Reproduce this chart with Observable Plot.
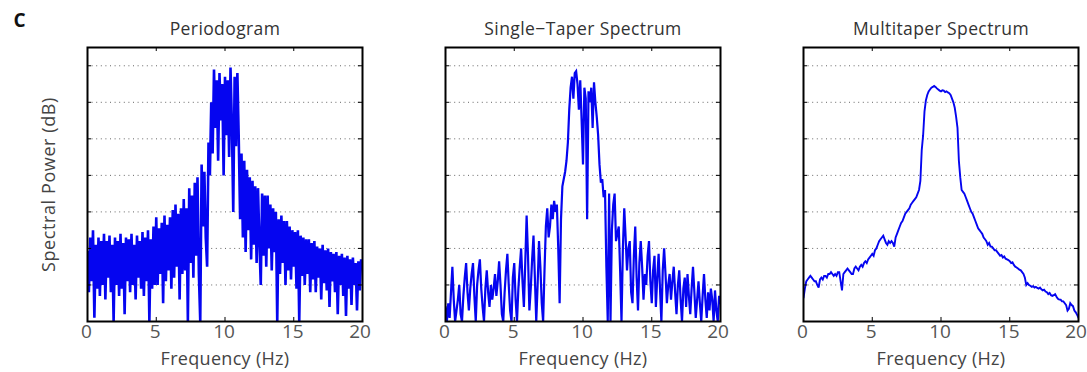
<!DOCTYPE html>
<html>
<head>
<meta charset="utf-8">
<script src="https://cdn.jsdelivr.net/npm/d3@7"></script>
<script src="https://cdn.jsdelivr.net/npm/@observablehq/plot@0.6"></script>
<style>
  html, body { margin: 0; padding: 0; background: #fff; }
  #chart { width: 1087px; height: 372px; overflow: hidden; }
</style>
</head>
<body>
<div id="chart"></div>
<script>
// Panel titles
const panels = ["Periodogram", "Single\u2212Taper Spectrum", "Multitaper Spectrum"];
const xTicks = [0, 5, 10, 15, 20];
const gridLevels = [1, 2, 3, 4, 5, 6, 7];
const freqStep = 0.1; // Hz, sampling of each spectrum (index * step)

// Spectral power (arbitrary dB units), 0..20 Hz every 0.1 Hz
const periodogram = [
  1.9, 0.8, 2.3, 1.1, 2.5, 0.1, 2.1, 0.9, 2.3, 0.7,
  2.2, 1.0, 2.4, 0.6, 2.2, 1.2, 2.35, 0.8, 2.1, 0.0,
  2.3, 1.0, 2.2, 0.7, 2.4, 0.9, 2.15, 0.2, 2.3, 1.1,
  2.25, 0.8, 2.4, 1.0, 2.1, 0.6, 2.35, 1.2, 2.2, 0.9,
  2.45, 0.7, 2.3, 1.1, 2.5, 0.0, 2.25, 0.9, 2.6, 1.0,
  2.85, 1.0, 2.55, 1.3, 2.7, 0.5, 2.9, 1.1, 2.65, 1.4,
  2.85, 0.9, 3.05, 1.2, 3.2, 1.5, 2.95, 0.6, 3.1, 1.3,
  3.35, 1.4, 3.1, 0.0, 3.65, 1.6, 3.45, 1.2, 3.8, 1.8,
  3.95, 1.3, 0.0, 4.3, 2.6, 4.1, 2.3, 1.5, 4.9, 4.0,
  6.0, 4.6, 6.9, 5.3, 6.6, 4.4, 6.8, 5.5, 6.5, 4.0,
  6.7, 5.1, 6.6, 4.5, 6.95, 5.4, 3.0, 6.7, 4.8, 6.8,
  5.0, 2.8, 4.6, 2.3, 4.4, 1.9, 4.15, 2.5, 3.95, 1.7,
  3.85, 2.1, 3.7, 1.6, 3.65, 2.2, 1.0, 3.5, 1.8, 3.45,
  1.5, 3.45, 2.0, 3.2, 1.4, 3.1, 1.9, 3.0, 0.0, 2.8,
  1.3, 2.9, 1.6, 2.75, 1.0, 2.75, 1.4, 2.6, 1.15, 2.5,
  1.5, 2.45, 0.9, 2.5, 0.0, 2.35, 1.25, 2.3, 1.0, 2.25,
  1.3, 2.25, 0.8, 2.15, 1.15, 2.2, 0.8, 2.05, 1.2, 2.0,
  0.6, 2.1, 1.05, 1.95, 0.85, 2.0, 0.4, 1.9, 1.1, 1.85,
  0.8, 1.9, 0.2, 1.8, 1.0, 1.85, 0.7, 1.75, 0.15, 1.8,
  0.9, 1.7, 0.45, 1.75, 1.0, 1.6, 0.3, 1.65, 0.85, 1.7,
  1.5
];

const singleTaper = [
  0.4, 0.0, 0.5, 0.1, 0.8, 1.5, 0.6, 0.0, 0.3, 0.6,
  1.0, 0.2, 0.0, 0.7, 1.2, 1.6, 0.8, 0.3, 0.9, 1.3,
  1.6, 0.7, 0.0, 1.0, 1.4, 1.7, 0.9, 0.4, 0.0, 0.9,
  1.4, 0.8, 0.4, 1.0, 0.6, 0.9, 1.3, 0.7, 1.1, 1.65,
  1.0, 0.2, 0.0, 0.8, 1.4, 1.85, 1.0, 0.3, 0.0, 1.2,
  1.6, 0.6, 0.0, 0.9, 1.5, 2.0, 1.1, 0.4, 1.6, 2.9,
  1.8, 0.3, 0.9, 1.7, 2.35, 1.2, 0.0, 1.0, 2.2, 1.5,
  0.5, 0.0, 1.4, 2.6, 3.1, 2.3, 2.6, 3.2, 2.8, 3.3,
  3.0, 3.2, 2.0, 0.5, 2.8, 3.7, 3.9, 4.1, 4.4, 4.9,
  5.8, 6.4, 6.7, 6.1, 6.8, 6.85, 6.5, 5.8, 6.6, 5.5,
  4.3, 6.4, 6.1, 2.8, 6.3, 6.0, 6.4, 5.3, 6.55, 6.0,
  5.6, 5.1, 4.3, 3.8, 3.9, 3.4, 3.6, 1.5, 0.0, 3.5,
  0.0, 2.5, 3.2, 3.5, 2.2, 2.4, 2.6, 1.4, 0.0, 2.0,
  3.1, 2.3, 1.4, 2.0, 2.2, 0.8, 0.5, 1.8, 2.6, 1.2,
  0.3, 1.6, 2.2, 1.5, 0.6, 1.3, 1.0, 1.8, 2.2, 1.1,
  0.5, 1.4, 1.8, 0.4, 1.2, 1.85, 0.9, 0.0, 1.4, 2.0,
  1.3, 0.5, 1.0, 1.3, 0.6, 1.1, 1.5, 0.8, 0.2, 1.0,
  1.4, 0.6, 0.0, 0.9, 1.2, 0.4, 1.3, 0.7, 0.2, 0.9,
  1.5, 0.8, 0.1, 0.6, 1.1, 0.5, 0.0, 0.7, 1.3, 0.6,
  0.1, 0.8, 0.3, 0.9, 0.6, 0.0, 0.85, 0.3, 0.0, 0.7,
  0.5
];

const multitaper = [
  0.65, 0.9, 1.1, 1.15, 1.2, 1.25, 1.2, 1.15, 1.1, 1.1,
  1.0, 0.93, 1.15, 1.2, 1.15, 1.25, 1.25, 1.2, 1.3, 1.3,
  1.35, 1.3, 1.25, 1.3, 1.25, 1.35, 1.35, 1.1, 0.85, 1.3,
  1.35, 1.4, 1.45, 1.4, 1.35, 1.3, 1.3, 1.45, 1.5, 1.45,
  1.4, 1.5, 1.55, 1.5, 1.6, 1.65, 1.6, 1.7, 1.75, 1.8,
  1.85, 1.8, 1.95, 2.0, 2.1, 2.2, 2.25, 2.3, 2.35, 2.25,
  2.15, 2.1, 2.2, 2.15, 2.2, 2.15, 2.05, 2.3, 2.4, 2.5,
  2.6, 2.7, 2.75, 2.85, 2.95, 3.0, 3.05, 3.1, 3.2, 3.25,
  3.3, 3.35, 3.4, 3.5, 3.6, 3.85, 4.7, 5.1, 5.75, 6.05,
  6.2, 6.3, 6.35, 6.4, 6.42, 6.45, 6.42, 6.38, 6.35, 6.32,
  6.3, 6.33, 6.32, 6.28, 6.3, 6.27, 6.25, 6.2, 6.1, 6.0,
  5.85, 5.6, 5.3, 4.4, 3.95, 3.6, 3.55, 3.5, 3.4, 3.3,
  3.2, 3.1, 3.0, 2.95, 2.85, 2.75, 2.65, 2.55, 2.5, 2.45,
  2.4, 2.3, 2.25, 2.2, 2.1, 2.15, 2.05, 2.05, 2.0, 1.95,
  1.95, 1.9, 1.85, 1.8, 1.82, 1.75, 1.78, 1.72, 1.7, 1.68,
  1.65, 1.6, 1.62, 1.55, 1.5, 1.48, 1.45, 1.42, 1.4, 1.35,
  1.3, 1.2, 1.0, 1.05, 1.0, 0.98, 0.95, 0.97, 0.93, 0.95,
  0.92, 0.9, 0.93, 0.88, 0.85, 0.87, 0.82, 0.8, 0.75, 0.78,
  0.72, 0.7, 0.72, 0.75, 0.68, 0.62, 0.6, 0.6, 0.55, 0.55,
  0.5, 0.45, 0.3, 0.35, 0.5, 0.45, 0.42, 0.3, 0.25, 0.18,
  0.1
];

const series = [periodogram, singleTaper, multitaper];
const lineWidths = [2.6, 2.2, 1.9];
const rows = series.flatMap((vals, p) =>
  vals.map((v, i) => ({panel: panels[p], f: +(i * freqStep).toFixed(2), v}))
);

const blue = "#0505f0";
const font = "'Open Sans', 'DejaVu Sans', sans-serif";

const chart = Plot.plot({
  width: 1087,
  height: 372,
  marginLeft: 86,
  marginRight: 9,
  marginTop: 47,
  marginBottom: 51,
  style: {fontFamily: font, fontSize: "17px", color: "#444", background: "#fff"},
  fx: {domain: panels, paddingInner: 0.233, paddingOuter: 0, axis: null, label: null},
  x: {domain: [0, 20], axis: null, label: null},
  y: {domain: [0, 7.5], axis: null},
  marks: [
    Plot.ruleY(gridLevels, {stroke: "#666", strokeWidth: 1, strokeDasharray: "1,3.6"}),
    ...series.map((vals, p) =>
      Plot.lineY(rows.filter(r => r.panel === panels[p]), {fx: "panel", x: "f", y: "v", stroke: blue, strokeWidth: lineWidths[p], strokeLinejoin: "miter", strokeMiterlimit: 3, clip: true})
    ),
    // inward tick marks (MATLAB style)
    Plot.ruleY(gridLevels, {x1: 0, x2: 0.3, stroke: "#000", strokeWidth: 1}),
    Plot.ruleY(gridLevels, {x1: 19.7, x2: 20, stroke: "#000", strokeWidth: 1}),
    Plot.ruleX(xTicks.slice(1, -1), {y1: 7.39, y2: 7.5, stroke: "#000", strokeWidth: 1}),
    Plot.ruleX(xTicks.slice(1, -1), {y1: 0, y2: 0.11, stroke: "#000", strokeWidth: 1}),
    Plot.frame({stroke: "#000", strokeWidth: 2}),
    // tick labels
    Plot.text(xTicks.slice(0, -1), {x: d => d, text: d => String(d), frameAnchor: "bottom", dy: 3, dx: -1, lineAnchor: "top", fontSize: 19, fill: "#555"}),
    Plot.text(xTicks.slice(-1), {x: d => d, text: d => String(d), frameAnchor: "bottom", dy: 3, dx: -2.5, lineAnchor: "top", fontSize: 19, fill: "#555"}),
    Plot.text(panels, {fx: d => d, text: d => d, frameAnchor: "top", dy: -13, lineAnchor: "bottom", fontSize: 17.5, fill: "#333"}),
    Plot.text(["Frequency (Hz)"], {text: d => d, frameAnchor: "bottom", dy: 43, lineAnchor: "bottom", fontSize: 18, fill: "#444"}),
    Plot.text([panels[0]], {fx: d => d, text: () => "Spectral Power (dB)", frameAnchor: "left", dx: -38, rotate: -90, textAnchor: "middle", lineAnchor: "middle", fontSize: 18, fill: "#444"}),
    Plot.text([panels[0]], {fx: d => d, text: () => "C", frameAnchor: "top-left", dx: -74, dy: -34, textAnchor: "start", lineAnchor: "top", fontSize: 19, fontWeight: "bold", fill: "#111"})
  ]
});

// slightly wider letter spacing, as in the reference typography
chart.querySelectorAll("text").forEach(t => {
  const s = t.textContent;
  if (s === "Spectral Power (dB)") t.style.letterSpacing = "0.6px";
  else if (s === "Frequency (Hz)") t.style.letterSpacing = "0.3px";
  else if (panels.includes(s)) t.style.letterSpacing = "0.4px";
});

document.getElementById("chart").append(chart);
</script>
</body>
</html>
